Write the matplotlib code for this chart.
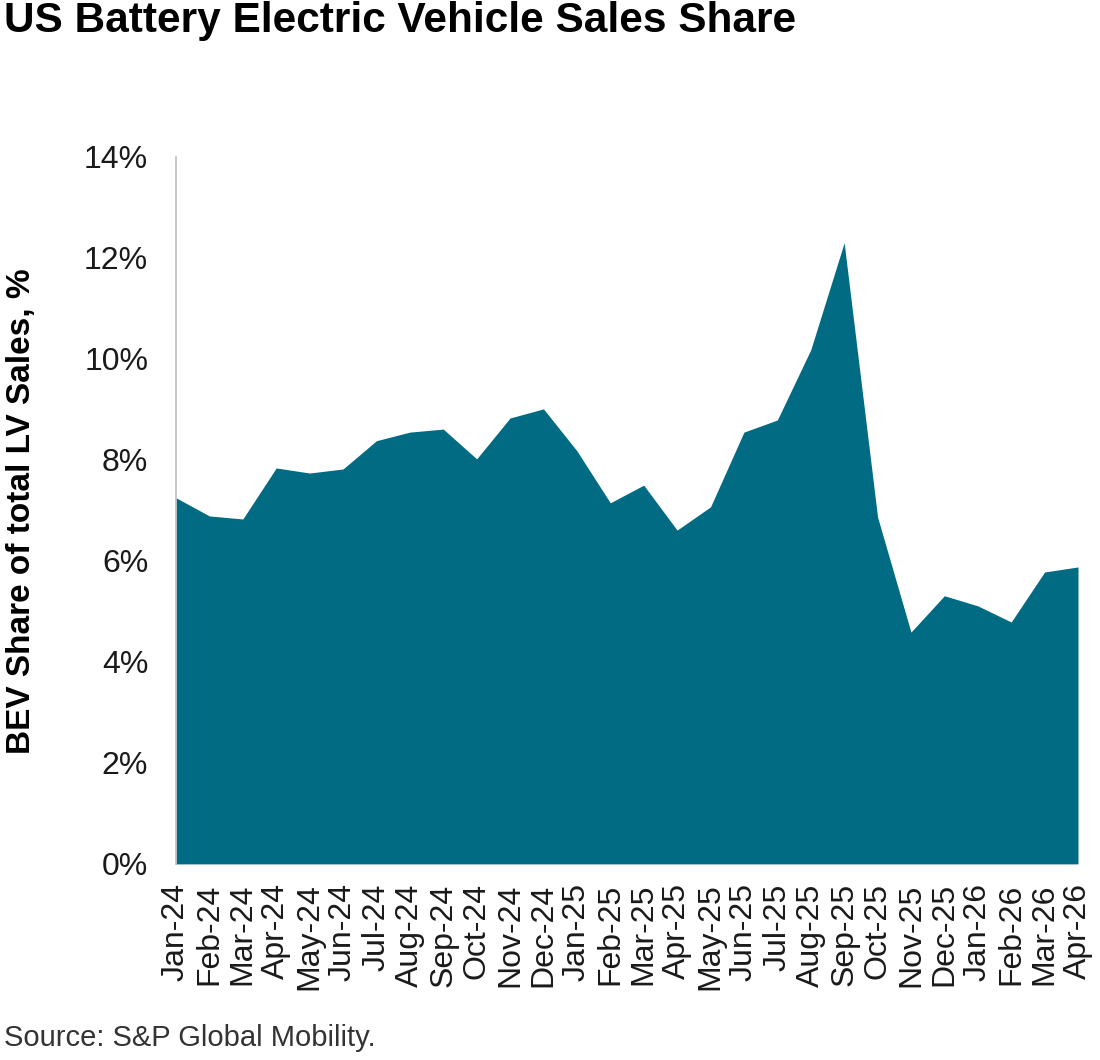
import matplotlib
matplotlib.use("Agg")
import matplotlib.pyplot as plt
from matplotlib.ticker import FuncFormatter

plt.rcParams['font.family'] = ['Liberation Sans', 'DejaVu Sans']

months = ["Jan-24", "Feb-24", "Mar-24", "Apr-24", "May-24", "Jun-24", "Jul-24",
          "Aug-24", "Sep-24", "Oct-24", "Nov-24", "Dec-24", "Jan-25", "Feb-25",
          "Mar-25", "Apr-25", "May-25", "Jun-25", "Jul-25", "Aug-25", "Sep-25",
          "Oct-25", "Nov-25", "Dec-25", "Jan-26", "Feb-26", "Mar-26", "Apr-26"]
bev_share = [7.25, 6.89, 6.83, 7.84, 7.74, 7.82, 8.38, 8.55, 8.61, 8.02, 8.83,
             9.01, 8.18, 7.15, 7.50, 6.61, 7.07, 8.55, 8.79, 10.18, 12.30,
             6.87, 4.59, 5.31, 5.11, 4.79, 5.78, 5.88]
yticks = [0, 2, 4, 6, 8, 10, 12, 14]

fig = plt.figure(figsize=(11, 10.6), dpi=100)
ax = fig.add_axes([0.16, 0.185, 0.82, 0.667])

x = list(range(len(months)))
ax.fill_between(x, bev_share, 0, color="#006B82", linewidth=0)

ax.set_xlim(0, len(months) - 1)
ax.set_ylim(0, 14)
ax.set_yticks(yticks)
ax.yaxis.set_major_formatter(FuncFormatter(lambda v, p: f"{int(v)}%"))
ax.set_xticks(x)
ax.set_xticklabels(months, rotation=90, fontsize=23, color="#1a1a1a")
ax.tick_params(axis='y', labelsize=23, length=0, pad=20, labelcolor="#1a1a1a")
ax.tick_params(axis='x', length=0, pad=14)

for s in ["top", "right", "bottom"]:
    ax.spines[s].set_visible(False)
ax.spines["left"].set_color("#BFBFBF")
ax.spines["left"].set_linewidth(1.2)

fig.text(22 / 1100, 0.518, "BEV Share of total LV Sales, %", fontsize=24,
         fontweight="bold", rotation=90, ha="center", va="center")

fig.text(0.004, 0.980, "US Battery Electric Vehicle Sales Share", fontsize=30.5,
         fontweight="bold", ha="left", va="center")
fig.text(0.004, 0.021, "Source: S&P Global Mobility.", fontsize=21, color="#333333",
         ha="left", va="center")

fig.savefig("out.png", dpi=100, facecolor="white")
